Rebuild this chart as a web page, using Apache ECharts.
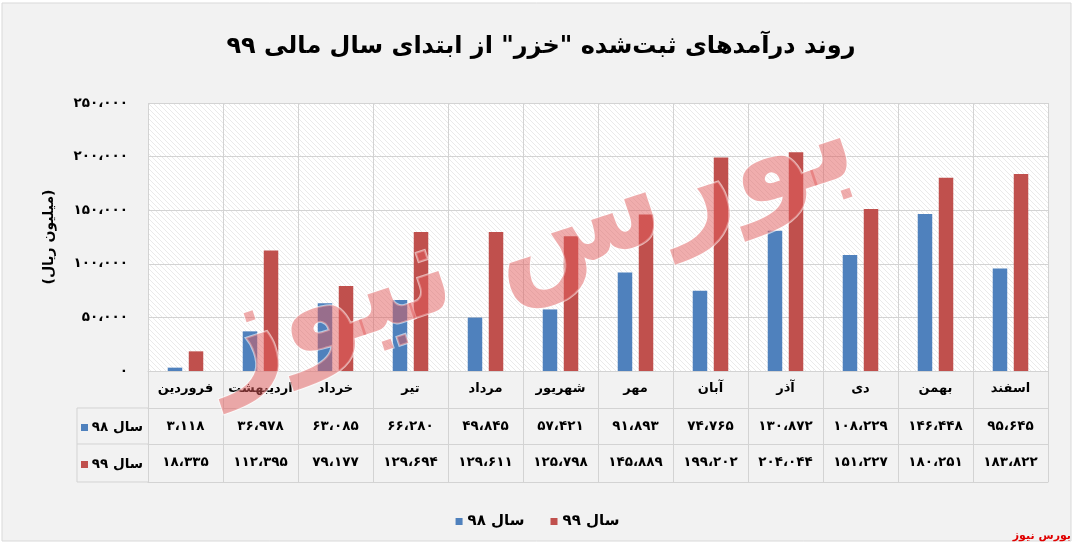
<!DOCTYPE html>
<html>
<head>
<meta charset="utf-8">
<script src="https://cdn.jsdelivr.net/npm/echarts@6/dist/echarts.min.js"></script>
<style>
html,body{margin:0;padding:0;background:#ffffff;}
#chart{width:1075px;height:548px;}
</style>
</head>
<body>
<div id="chart"></div>
<script>
const titleText = 'روند درآمدهای ثبت‌شده "خزر" از ابتدای سال مالی ۹۹';
const yAxisName = '(میلیون ریال)';
const categories = ['فروردین','اردیبهشت','خرداد','تیر','مرداد','شهریور','مهر','آبان','آذر','دی','بهمن','اسفند'];
const seriesNames = ['سال ۹۸','سال ۹۹'];
const sales98 = [3118, 36978, 63085, 66280, 49845, 57421, 91893, 74765, 130872, 108229, 146448, 95645];
const sales99 = [18335, 112395, 79177, 129694, 129611, 125798, 145889, 199202, 204044, 151227, 180251, 183822];
const yMin = 0, yMax = 250000, yStep = 50000;
const watermark = 'بورس نیوز';
const sourceText = 'بورس نیوز';

const FONT = 'DejaVu Sans';
const faDigits = '۰۱۲۳۴۵۶۷۸۹';
function fa(n){
  return Math.round(n).toLocaleString('en-US').replace(/,/g,'،').replace(/[0-9]/g, d => faDigits[+d]);
}

// hatched background pattern
const P = 5;
const pc = document.createElement('canvas');
pc.width = P; pc.height = P;
const pctx = pc.getContext('2d');
pctx.fillStyle = '#ffffff'; pctx.fillRect(0,0,P,P);
pctx.strokeStyle = '#e4e4e4'; pctx.lineWidth = 0.8;
pctx.beginPath();
pctx.moveTo(-1,-1); pctx.lineTo(P+1,P+1);
pctx.moveTo(-1,P-1); pctx.lineTo(1,P+1);
pctx.moveTo(P-1,-1); pctx.lineTo(P+1,1);
pctx.stroke();

const C98 = '#4F81BD', C99 = '#C0504D';
const LINE = '#d3d3d3';
const gridLeft = 148, gridRight = 27, gridTop = 103, gridBottom = 177;
const rowH = [37, 36, 38];

const chart = echarts.init(document.getElementById('chart'), null, {renderer:'canvas'});

function tableAxis(offset, labelFn, showLabel){
  return {
    type:'category', data: categories, position:'bottom', offset: offset,
    gridIndex:0,
    axisLine:{show:true, lineStyle:{color:LINE, width:1}},
    axisTick:{show:false},
    axisLabel:{show:showLabel, interval:0, margin:18, verticalAlign:'middle',
      fontFamily:FONT, fontWeight:'bold', fontSize:13.5, color:'#000',
      formatter: labelFn},
    splitLine:{show:false}
  };
}

const option = {
  backgroundColor:'#ffffff',
  animation:false,
  title:{
    text:titleText, left:536, top:30, textAlign:'center',
    textStyle:{fontFamily:FONT, fontWeight:'bold', fontSize:24, color:'#000'}
  },
  legend:{
    data:seriesNames, top:509, left:'center',
    itemWidth:7, itemHeight:7, itemGap:26, icon:'rect',
    textStyle:{fontFamily:FONT, fontWeight:'bold', fontSize:15, color:'#000'}
  },
  grid:{
    left:gridLeft, right:gridRight, top:gridTop, bottom:gridBottom,
    show:true, borderWidth:0,
    backgroundColor:{image:pc, repeat:'repeat'}
  },
  xAxis:[
    {
      type:'category', data:categories, position:'bottom', offset:0,
      axisLine:{show:true, lineStyle:{color:LINE}},
      axisTick:{show:true, interval:0, length:rowH[0]+rowH[1]+rowH[2], lineStyle:{color:LINE}},
      axisLabel:{interval:0, margin:18, verticalAlign:'middle',
        fontFamily:FONT, fontWeight:'bold', fontSize:13, color:'#000'},
      splitLine:{show:true, interval:0, lineStyle:{color:LINE}}
    },
    tableAxis(rowH[0], (v,i)=>fa(sales98[i]), true),
    tableAxis(rowH[0]+rowH[1], (v,i)=>fa(sales99[i]), true),
    tableAxis(rowH[0]+rowH[1]+rowH[2], ()=>'', false)
  ],
  yAxis:{
    type:'value', min:yMin, max:yMax, interval:yStep,
    name:yAxisName, nameLocation:'middle', nameGap:92, nameRotate:90,
    nameTextStyle:{fontFamily:FONT, fontWeight:'bold', fontSize:14, color:'#000'},
    axisLine:{show:false}, axisTick:{show:false},
    axisLabel:{margin:20, fontFamily:FONT, fontWeight:'bold', fontSize:13.5, color:'#000',
      formatter:v=>fa(v)},
    splitLine:{show:true, lineStyle:{color:LINE}}
  },
  series:[
    {name:seriesNames[0], type:'bar', data:sales98, xAxisIndex:0, barWidth:14.5, barGap:'45%',
      itemStyle:{color:C98}},
    {name:seriesNames[1], type:'bar', data:sales99, xAxisIndex:0, barWidth:14.5, barGap:'45%',
      itemStyle:{color:C99}}
  ],
  graphic:[
    {type:'rect', z:-100, shape:{x:2, y:3, width:1069, height:538},
      style:{fill:'#f2f2f2', stroke:'#d9d9d9', lineWidth:1}},
    // left column of data table
    {type:'line', shape:{x1:77, y1:408, x2:148, y2:408}, style:{stroke:LINE}},
    {type:'line', shape:{x1:77, y1:444, x2:148, y2:444}, style:{stroke:LINE}},
    {type:'line', shape:{x1:77, y1:482, x2:148, y2:482}, style:{stroke:LINE}},
    {type:'line', shape:{x1:77, y1:408, x2:77, y2:482}, style:{stroke:LINE}},
    {type:'rect', shape:{x:81, y:424, width:7, height:7}, style:{fill:C98}},
    {type:'text', x:143, y:427, style:{text:seriesNames[0], align:'right', verticalAlign:'middle',
      font:'bold 13.5px "DejaVu Sans"', fill:'#000'}},
    {type:'rect', shape:{x:81, y:461, width:7, height:7}, style:{fill:C99}},
    {type:'text', x:143, y:464, style:{text:seriesNames[1], align:'right', verticalAlign:'middle',
      font:'bold 13.5px "DejaVu Sans"', fill:'#000'}},
    // source
    {type:'text', x:1071, y:536, style:{text:sourceText, align:'right', verticalAlign:'middle',
      font:'bold 11px "DejaVu Sans"', fill:'#e00000'}},
    // watermark
    {type:'text', z:100, x:530, y:245, rotation:0.32,
      style:{text:watermark, align:'center', verticalAlign:'middle',
        font:'bold 128px "DejaVu Sans"', fill:'rgba(226,92,92,0.5)',
        stroke:'rgba(255,255,255,0.6)', lineWidth:2}}
  ]
};
chart.setOption(option);
</script>
</body>
</html>
